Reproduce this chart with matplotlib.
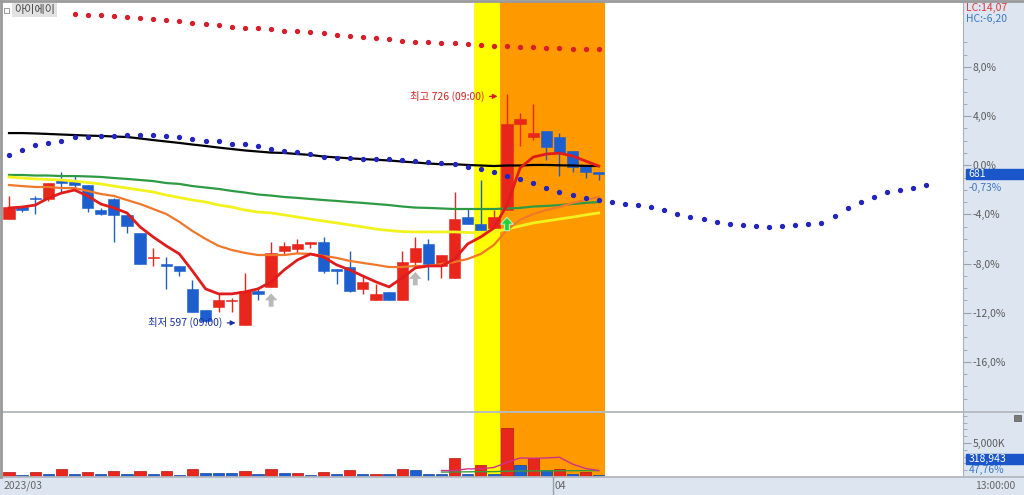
import numpy as np
import matplotlib.pyplot as plt
import matplotlib.transforms as mtransforms
from matplotlib.patches import Rectangle
from matplotlib.lines import Line2D

plt.rcParams['font.family'] = ['Noto Sans CJK KR', 'DejaVu Sans']

# ---- data ----
base_price = 686
opens  = [656, 663, 668, 667, 678, 677, 675, 661, 667, 658, 648, 634, 631, 630, 617, 605,
          607, 610, 597, 616, 618, 638, 639, 642, 643, 628, 629, 617, 611, 615, 611, 632,
          642, 630, 623, 657, 653, 651, 661, 709, 702, 705, 702, 694, 686, 682]
highs  = [669, 663, 669, 676, 682, 680, 675, 662, 668, 658, 648, 640, 635, 630, 622, 605,
          614, 612, 626, 618, 643, 643, 645, 643, 646, 628, 638, 624, 620, 615, 638, 646,
          645, 636, 671, 662, 678, 661, 726, 715, 720, 705, 704, 694, 686, 682]
lows   = [656, 660, 659, 666, 671, 673, 660, 658, 643, 648, 631, 630, 617, 624, 604, 598,
          604, 604, 597, 611, 618, 636, 637, 640, 626, 620, 615, 614, 611, 611, 611, 630,
          622, 623, 623, 653, 650, 651, 661, 697, 700, 689, 680, 682, 679, 678]
closes = [663, 661, 667, 676, 676, 675, 662, 659, 658, 652, 631, 635, 630, 627, 604, 599,
          611, 611, 616, 614, 637, 641, 642, 643, 627, 627, 616, 621, 614, 611, 632, 640,
          631, 636, 656, 653, 650, 657, 709, 712, 704, 696, 693, 685, 682, 681]
volume_k = [735, 250, 735, 485, 1130, 400, 735, 400, 880, 485, 880, 400, 880, 250, 1220, 630,
            615, 590, 880, 400, 1220, 630, 660, 250, 735, 485, 1030, 485, 500, 470, 1220, 1030,
            485, 370, 2720, 485, 1760, 485, 7160, 1720, 2790, 1030, 1130, 400, 735, 318.943]

ma_red = [662.2, 662.7, 663.8, 667.7, 670.5, 672.2, 668.9, 664.4, 662.2, 659.4,
          651.6, 646.0, 641.0, 636.5, 627.0, 617.0, 614.2, 614.2, 615.3, 617.0,
          620.9, 627.6, 633.1, 636.5, 634.8, 630.4, 627.6, 624.2, 620.9, 618.1,
          623.1, 628.7, 629.8, 629.8, 633.7, 642.1, 646.0, 651.0, 663.8, 684.5,
          690.6, 692.3, 692.8, 691.2, 688.4, 685.6]
ma_orange = [675.0, 674.4, 673.9, 673.9, 673.3, 673.3, 671.7, 670.0, 668.9, 666.6,
             664.4, 661.6, 658.8, 654.4, 649.3, 644.9, 641.0, 638.7, 637.1, 635.9,
             635.9, 635.9, 636.8, 636.5, 635.4, 634.3, 632.6, 631.5, 630.4, 629.2,
             629.2, 629.8, 629.8, 630.9, 632.0, 633.7, 636.5, 641.5, 649.9, 655.5,
             658.8, 661.0, 662.7, 665.0, 666.6, 668.3]
ma_yellow = [679.5, 678.9, 678.4, 678.1, 677.8, 677.2, 676.4, 675.6, 674.4, 673.3,
             672.2, 671.1, 669.4, 668.0, 666.6, 665.5, 663.8, 662.7, 661.0, 659.9,
             659.4, 658.3, 657.1, 656.0, 654.9, 653.8, 652.7, 651.6, 650.4, 649.6,
             649.0, 648.8, 648.8, 648.8, 648.8, 648.5, 648.2, 648.8, 650.4, 652.1,
             653.8, 654.9, 656.0, 657.1, 658.3, 659.4]
ma_green = [680.6, 680.6, 680.3, 680.3, 680.0, 680.0, 679.8, 679.5, 678.9, 678.4,
            677.8, 677.2, 676.1, 675.6, 674.4, 673.6, 672.8, 671.7, 670.8, 669.7,
            669.1, 668.3, 667.8, 667.2, 666.6, 666.1, 665.5, 665.0, 664.4, 663.8,
            663.0, 662.4, 662.2, 661.9, 661.6, 661.6, 661.6, 661.6, 661.9, 662.2,
            663.0, 663.3, 663.8, 664.4, 665.0, 665.5]
ma_black = [704.0, 704.0, 703.8, 703.5, 703.2, 702.9, 702.6, 702.4, 702.1, 701.8,
            701.0, 700.1, 699.3, 698.5, 697.6, 696.8, 695.9, 695.1, 694.3, 693.7,
            693.1, 692.9, 692.3, 691.8, 690.9, 690.4, 689.9, 689.5, 689.1, 688.7,
            688.1, 687.6, 687.0, 686.6, 686.6, 686.2, 685.9, 685.6, 685.9, 685.9,
            686.2, 686.2, 686.0, 685.9, 685.7, 685.6]

# dotted lines (blue one runs ahead of the last candle)
blue_dots = [691.7, 694.5, 697.3, 698.6, 699.7, 701.6, 702.0, 702.5, 702.5, 702.9,
             702.9, 702.9, 702.5, 702.0, 700.7, 699.7, 699.7, 697.9, 697.9, 696.8,
             695.1, 694.2, 693.3, 692.1, 690.8, 690.2, 689.9, 689.5, 689.5, 689.4,
             689.1, 688.6, 688.0, 687.5, 686.7, 685.1, 683.9, 682.3, 680.3, 678.4,
             676.1, 673.3, 671.1, 669.4, 667.8, 666.6, 665.7, 664.6, 664.0, 662.6,
             661.0, 659.0, 657.3, 655.9, 654.3, 653.1, 652.5, 652.0, 651.6, 652.1,
             652.7, 653.2, 653.6, 657.9, 662.0, 665.7, 668.3, 670.9, 672.2, 673.3, 675.0]
red_dots_start = 5
red_dots = [770.5, 770.1, 770.1, 769.5, 769.0, 768.1, 767.7, 766.9, 766.4, 765.4,
            764.9, 764.5, 763.4, 762.8, 762.5, 761.9, 761.1, 760.8, 760.2, 759.7,
            758.7, 758.2, 757.8, 757.2, 756.5, 755.6, 755.0, 754.7, 754.1, 754.1,
            753.7, 753.2, 752.6, 752.6, 752.2, 752.2, 751.6, 751.6, 750.9, 750.9, 750.8]

vol_ma_start = 33
vol_ma_pink = [950, 950, 1200, 1200, 1400, 2150, 2800, 2750, 2800, 2900, 1900, 1250, 950]
vol_ma_green = [720, 740, 760, 780, 790, 860, 880, 900, 910, 920, 930, 930, 940]

pct_ticks = [8, 4, 0, -4, -8, -12, -16]
gray_signals = [20, 31]
green_signal = 38
yellow_span = (35.5, 37.5)
orange_span = (37.5, 45.5)
month_break = 41.5

RED, BLUE = '#e8261c', '#1d5fcf'
W, H = 1024, 495

def box(l, t, r, b):
    return [l / W, 1 - b / H, (r - l) / W, (b - t) / H]

fig = plt.figure(figsize=(W / 100, H / 100), dpi=100, facecolor='#dde5f0')
ax = fig.add_axes(box(3, 2, 963, 411), facecolor='white')
axv = fig.add_axes(box(3, 412, 963, 477), facecolor='white', sharex=ax)

idx = np.arange(len(closes))
o, h, l, c = map(np.array, (opens, highs, lows, closes))
cols = np.where(c >= o, RED, BLUE)

for a in (ax, axv):
    a.axvspan(*yellow_span, color='#ffff00', lw=0, zorder=0)
    a.axvspan(*orange_span, color='#ff9900', lw=0, zorder=0)

# candles
ax.vlines(idx, l, h, colors=cols, lw=1, zorder=3)
ax.bar(idx, np.maximum(np.abs(c - o), 0.6), bottom=np.minimum(o, c), width=0.86,
       color=cols, edgecolor=cols, lw=0.4, zorder=4)

# moving averages
ax.plot(idx, ma_black, color='black', lw=1.6, zorder=5)
ax.plot(idx, ma_green, color='#2e9a44', lw=1.6, zorder=5)
ax.plot(idx, ma_yellow, color='#f2f21e', lw=2, zorder=5)
ax.plot(idx, ma_orange, color='#f0782a', lw=1.6, zorder=5)
ax.plot(idx, ma_red, color='#e01c1c', lw=2, zorder=6)

ax.plot(np.arange(len(blue_dots)), blue_dots, 'o', color='#2424c0', ms=2.8, zorder=7)
ax.plot(np.arange(len(red_dots)) + red_dots_start, red_dots, 'o', color='#d81e2c', ms=2.8, zorder=7)

# signal arrows
for i in gray_signals:
    ax.annotate('', xy=(i, lows[i] - 3.5), xytext=(i, lows[i] - 11),
                arrowprops=dict(width=3.5, headwidth=9, headlength=5, color='#b9b9b9', lw=0), zorder=8)
ax.annotate('', xy=(green_signal, lows[green_signal] - 4), xytext=(green_signal, lows[green_signal] - 11.5),
            arrowprops=dict(width=3.5, headwidth=9, headlength=5, color='#22d040', ec='#b6f5b0', lw=0.8), zorder=8)

# high / low labels
hi = int(np.argmax(h)); lo = int(np.argmin(l))
ax.annotate('', xy=(hi - 0.5, h[hi] - 1.5), xytext=(hi - 1.55, h[hi] - 1.5),
            arrowprops=dict(arrowstyle='-|>', color='#d82020', lw=0.9, mutation_scale=7), zorder=9)
ax.text(hi - 1.75, h[hi] - 1.5, f'최고 {h[hi]} (09:00)', color='#d82020', fontsize=7.5,
        ha='right', va='center', zorder=9)
ax.annotate('', xy=(lo - 0.5, l[lo] + 1), xytext=(lo - 1.55, l[lo] + 1),
            arrowprops=dict(arrowstyle='-|>', color='#1a2ea8', lw=0.9, mutation_scale=7), zorder=9)
ax.text(lo - 1.75, l[lo] + 1, f'최저 {l[lo]} (09:00)', color='#1a2ea8', fontsize=7.5,
        ha='right', va='center', zorder=9)

ax.set_xlim(-0.46, 72.8)
ax.set_ylim(548.9, 777.2)

# right percent axis
ax.yaxis.tick_right()
ax.set_yticks([base_price * (1 + p / 100) for p in pct_ticks])
ax.set_yticklabels([f'{p:.1f}%'.replace('.', ',') for p in pct_ticks])
ax.set_yticks([base_price * (1 + p / 100) for p in range(-20, 11)], minor=True)
ax.tick_params(axis='y', which='major', length=6, colors='#9aa4b0', labelcolor='#5c5c5c',
               labelsize=7.5, pad=1)
ax.tick_params(axis='y', which='minor', length=3, colors='#9aa4b0')
ax.tick_params(axis='x', bottom=False, labelbottom=False)

# volume
vk = np.array(volume_k)
vcols = [RED if i == 0 or vk[i] >= vk[i - 1] else BLUE for i in idx]
vedges = ['#b01818' if cc == RED else '#17459a' for cc in vcols]
axv.bar(idx, vk, width=0.86, color=vcols, edgecolor=vedges, lw=0.5, zorder=3)
vi = np.arange(len(vol_ma_pink)) + vol_ma_start
axv.plot(vi, vol_ma_green, color='#3c9a3c', lw=1, zorder=4)
axv.plot(vi, vol_ma_pink, color='#d0308c', lw=1, zorder=4)
axv.set_ylim(0, 9555)
axv.yaxis.tick_right()
axv.set_yticks([5000])
axv.set_yticklabels(['5,000K'])
axv.set_yticks(range(1000, 9001, 1000), minor=True)
axv.tick_params(axis='y', which='major', length=6, colors='#9aa4b0', labelcolor='#5c5c5c',
                labelsize=7.5, pad=1)
axv.tick_params(axis='y', which='minor', length=3, colors='#9aa4b0')
axv.tick_params(axis='x', bottom=False, labelbottom=False)

for a in (ax, axv):
    for s in ('top', 'bottom', 'left'):
        a.spines[s].set_visible(False)
    a.spines['right'].set_color('#a8b0ba')

# right-hand value boxes
bt = mtransforms.blended_transform_factory(ax.transAxes, ax.transData)
ax.add_patch(Rectangle((1.003, c[-1] - 2.9), 0.062, 5.8, transform=bt, color='#1a55c9',
                       clip_on=False, zorder=10))
ax.text(1.006, c[-1], f'{c[-1]}', transform=bt, color='white', fontsize=7.5, va='center', zorder=11)
ax.text(1.006, c[-1] - 7.5, f'{(c[-1] / base_price - 1) * 100:.2f}%'.replace('.', ','),
        transform=bt, color='#3a78c8', fontsize=7.5, va='center', zorder=11, clip_on=False)
axv.add_patch(Rectangle((1.003, 0.205), 0.062, 0.155, transform=axv.transAxes, color='#1a55c9',
                        clip_on=False, zorder=10))
axv.text(1.006, 0.28, f'{vk[-1] * 1000:,.0f}', transform=axv.transAxes, color='white',
         fontsize=7.5, va='center', zorder=11)
axv.text(1.006, 0.11, '47,76%', transform=axv.transAxes, color='#3a78c8', fontsize=7.5,
         va='center', zorder=11)
fig.patches.append(Rectangle((1014 / W, 1 - 421 / H), 7 / W, 6 / H, transform=fig.transFigure,
                             fc='#7a7a7a', ec='#555555', lw=0.5))

fig.text(966 / W, 1 - 8 / H, 'LC:14,07', color='#e03a3a', fontsize=7.5, va='center')
fig.text(966 / W, 1 - 19 / H, 'HC:-6,20', color='#3a78c8', fontsize=7.5, va='center')

# frame lines
for y in (411.5, 477):
    fig.add_artist(Line2D([0, 1], [1 - y / H] * 2, color='#b4b8be', lw=1.3))
fig.add_artist(Line2D([0, 1], [1 - 1 / H] * 2, color='#9a9a9a', lw=2))
fig.add_artist(Line2D([1.2 / W] * 2, [1 - 477 / H, 1], color='#9a9a9a', lw=2))

# bottom date strip
bx = mtransforms.blended_transform_factory(axv.transData, fig.transFigure)
fig.add_artist(Line2D([month_break] * 2, [0, 1 - 477 / H], transform=bx, color='#9aa0a8', lw=1))
fig.text(4 / W, 1 - 486 / H, '2023/03', color='#666666', fontsize=7.5, va='center')
fig.text(month_break + 0.15, 1 - 486 / H, '04', transform=bx, color='#666666', fontsize=7.5, va='center')
fig.text(975 / W, 1 - 486 / H, '13:00:00', color='#666666', fontsize=7.5, va='center')

# title label
fig.text(14 / W, 1 - 10 / H, '아이에이', color='#444444', fontsize=8, va='center',
         bbox=dict(boxstyle='square,pad=0.15', fc='#e2e2e2', ec='none'))
fig.patches.append(Rectangle((4 / W, 1 - 13 / H), 5 / W, 5 / H, transform=fig.transFigure,
                             fc='white', ec='#888888', lw=0.6))

fig.savefig('out.png', dpi=100, facecolor=fig.get_facecolor())
